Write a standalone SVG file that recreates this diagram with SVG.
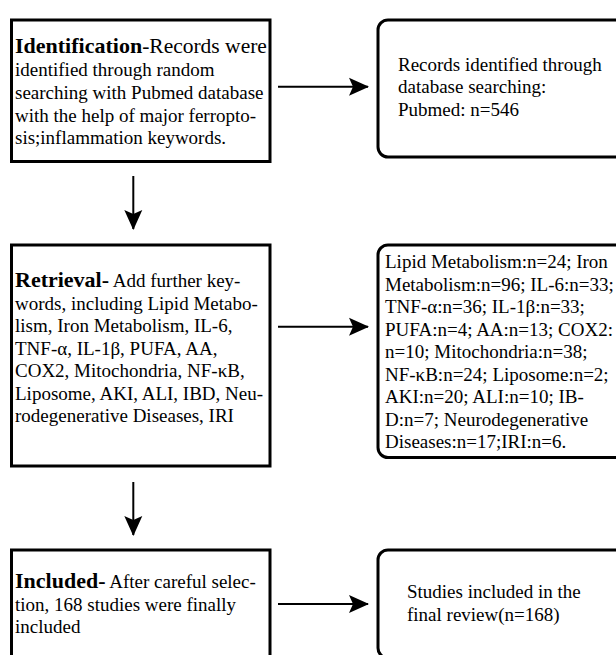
<svg xmlns="http://www.w3.org/2000/svg" width="616" height="655" viewBox="0 0 616 655">
<style>
.box{fill:#fff;stroke:#000;stroke-width:3}
.rbox{fill:#fff;stroke:#000;stroke-width:3}
.t{font-family:'Liberation Serif','Times New Roman',serif;font-size:19px;fill:#000}
.b{font-weight:bold;font-size:22px}
.ln{stroke:#000;stroke-width:2;fill:none}
</style>
<defs>
<marker id="ah" viewBox="0 0 20 20" refX="19" refY="10" markerWidth="20" markerHeight="20" markerUnits="userSpaceOnUse" orient="auto">
<path d="M20,10 L0,1 L4,10 L0,19 Z" fill="#000"/>
</marker>
</defs>
<rect width="616" height="655" fill="#fff"/>
<g id="identification">
<rect class="box" x="11.5" y="20" width="258.5" height="141.5"/>
<text class="t" x="15" y="53"><tspan class="b">Identification</tspan><tspan font-size="21.5px">-Records were</tspan></text>
<text class="t" x="15" y="76">identified through random</text>
<text class="t" x="15" y="98.5">searching with Pubmed database</text>
<text class="t" x="15" y="121.5">with the help of major ferropto-</text>
<text class="t" x="15" y="144">sis;inflammation keywords.</text>
</g>
<g id="records">
<rect class="rbox" x="378" y="20" width="260" height="137" rx="10"/>
<text class="t" x="398" y="71">Records identified through</text>
<text class="t" x="398" y="93">database searching:</text>
<text class="t" x="398" y="115.5">Pubmed: n=546</text>
</g>
<g id="retrieval">
<rect class="box" x="11.5" y="245" width="258.5" height="221"/>
<text class="t" x="15" y="287"><tspan class="b">Retrieval-</tspan> Add further key-</text>
<text class="t" x="15" y="309.5">words, including Lipid Metabo-</text>
<text class="t" x="15" y="332">lism, Iron Metabolism, IL-6,</text>
<text class="t" x="15" y="354.5">TNF-α, IL-1β, PUFA, AA,</text>
<text class="t" x="15" y="377">COX2, Mitochondria, NF-κB,</text>
<text class="t" x="15" y="399.5">Liposome, AKI, ALI, IBD, Neu-</text>
<text class="t" x="15" y="422">rodegenerative Diseases, IRI</text>
</g>
<g id="counts">
<rect class="rbox" x="378" y="245" width="260" height="212.5" rx="10"/>
<text class="t" x="385" y="268.3">Lipid Metabolism:n=24; Iron</text>
<text class="t" x="385" y="291">Metabolism:n=96; IL-6:n=33;</text>
<text class="t" x="385" y="313.3">TNF-α:n=36; IL-1β:n=33;</text>
<text class="t" x="385" y="336">PUFA:n=4; AA:n=13; COX2:</text>
<text class="t" x="385" y="358.3">n=10; Mitochondria:n=38;</text>
<text class="t" x="385" y="381">NF-κB:n=24; Liposome:n=2;</text>
<text class="t" x="385" y="403.3">AKI:n=20; ALI:n=10; IB-</text>
<text class="t" x="385" y="426">D:n=7; Neurodegenerative</text>
<text class="t" x="385" y="448.3">Diseases:n=17;IRI:n=6.</text>
</g>
<g id="included">
<rect class="box" x="11.5" y="550" width="258.5" height="120"/>
<text class="t" x="15" y="588"><tspan class="b">Included-</tspan> After careful selec-</text>
<text class="t" x="15" y="610.5">tion, 168 studies were finally</text>
<text class="t" x="15" y="633">included</text>
</g>
<g id="final">
<rect class="rbox" x="378" y="550" width="260" height="108" rx="10"/>
<text class="t" x="407" y="598">Studies included in the</text>
<text class="t" x="407" y="620.5">final review(n=168)</text>
</g>
<g id="connectors">
<line class="ln" x1="278" y1="86.7" x2="368" y2="86.7" marker-end="url(#ah)"/>
<line class="ln" x1="278" y1="326.7" x2="368" y2="326.7" marker-end="url(#ah)"/>
<line class="ln" x1="278" y1="604" x2="368" y2="604" marker-end="url(#ah)"/>
<line class="ln" x1="133.3" y1="176" x2="133.3" y2="229" marker-end="url(#ah)"/>
<line class="ln" x1="133.3" y1="482" x2="133.3" y2="535" marker-end="url(#ah)"/>
</g>
</svg>
